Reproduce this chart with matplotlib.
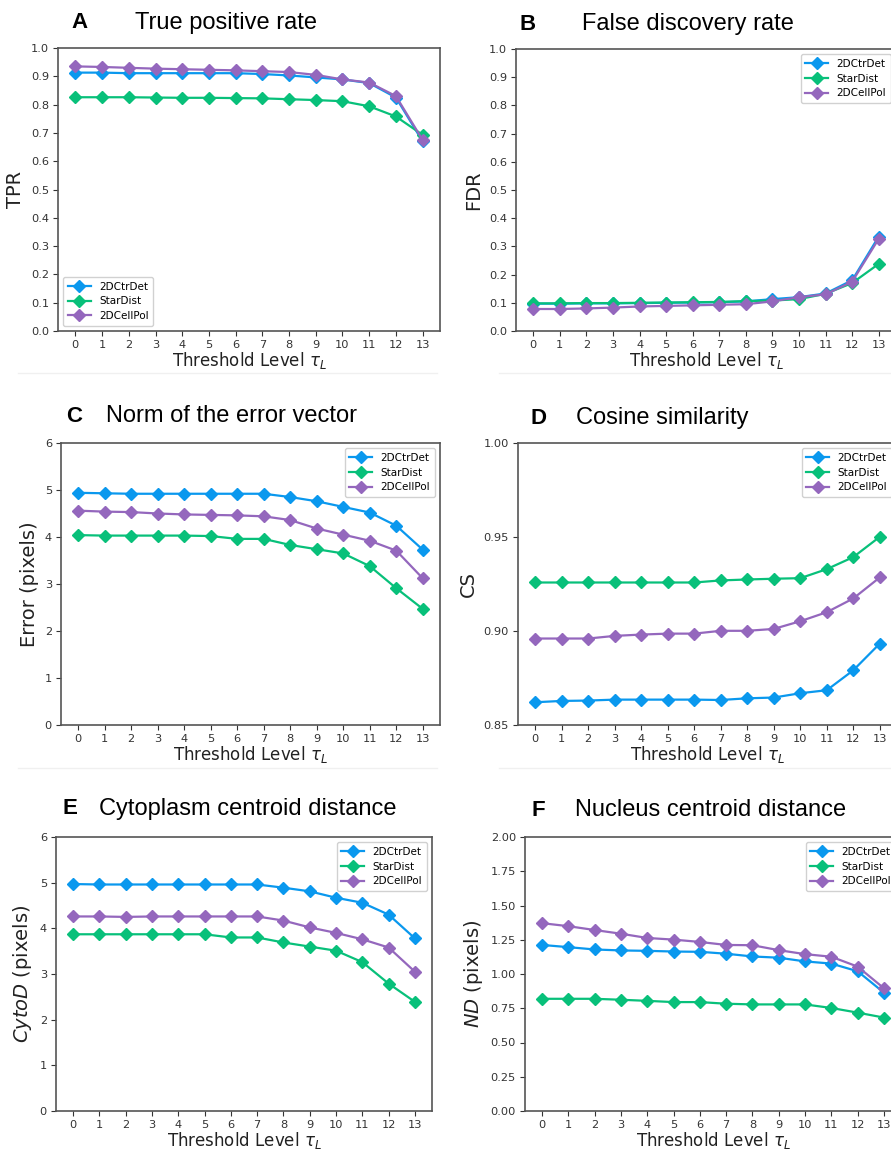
import matplotlib
matplotlib.use("Agg")
import matplotlib.pyplot as plt
import numpy as np
from matplotlib.ticker import FormatStrFormatter

levels = list(range(14))
methods = ["2DCtrDet", "StarDist", "2DCellPol"]
colors = ["#0a98ee", "#08c07a", "#9467bd"]

tpr_ctr = [0.913, 0.913, 0.911, 0.911, 0.911, 0.911, 0.911, 0.908, 0.903, 0.896, 0.889, 0.876, 0.825, 0.670]
tpr_star = [0.826, 0.826, 0.826, 0.825, 0.824, 0.824, 0.823, 0.822, 0.819, 0.816, 0.812, 0.794, 0.758, 0.693]
tpr_pol = [0.935, 0.933, 0.930, 0.927, 0.925, 0.923, 0.921, 0.918, 0.915, 0.905, 0.889, 0.878, 0.830, 0.675]

fdr_ctr = [0.097, 0.097, 0.098, 0.098, 0.099, 0.100, 0.101, 0.102, 0.105, 0.113, 0.120, 0.133, 0.180, 0.335]
fdr_star = [0.098, 0.098, 0.099, 0.099, 0.100, 0.101, 0.102, 0.103, 0.106, 0.108, 0.113, 0.132, 0.170, 0.238]
fdr_pol = [0.078, 0.078, 0.080, 0.083, 0.087, 0.089, 0.091, 0.093, 0.095, 0.105, 0.120, 0.130, 0.175, 0.327]

err_ctr = [4.94, 4.93, 4.92, 4.92, 4.92, 4.92, 4.92, 4.92, 4.85, 4.76, 4.64, 4.52, 4.24, 3.73]
err_star = [4.04, 4.03, 4.03, 4.03, 4.03, 4.02, 3.96, 3.96, 3.83, 3.74, 3.65, 3.38, 2.91, 2.47]
err_pol = [4.56, 4.54, 4.53, 4.50, 4.48, 4.47, 4.46, 4.44, 4.36, 4.18, 4.05, 3.92, 3.71, 3.12]

cs_ctr = [0.8621, 0.8628, 0.8630, 0.8635, 0.8635, 0.8635, 0.8635, 0.8633, 0.8642, 0.8646, 0.8669, 0.8685, 0.8791, 0.8933]
cs_star = [0.9258, 0.9258, 0.9258, 0.9258, 0.9258, 0.9258, 0.9258, 0.9269, 0.9274, 0.9278, 0.9281, 0.9329, 0.9393, 0.9501]
cs_pol = [0.8960, 0.8960, 0.8960, 0.8974, 0.8981, 0.8986, 0.8986, 0.9001, 0.9001, 0.9011, 0.9052, 0.9100, 0.9173, 0.9285]

cyto_ctr = [4.97, 4.96, 4.96, 4.96, 4.96, 4.96, 4.96, 4.96, 4.89, 4.81, 4.67, 4.56, 4.30, 3.78]
cyto_star = [3.87, 3.87, 3.87, 3.87, 3.87, 3.87, 3.80, 3.80, 3.69, 3.60, 3.51, 3.26, 2.79, 2.39]
cyto_pol = [4.26, 4.26, 4.25, 4.26, 4.26, 4.26, 4.26, 4.26, 4.17, 4.02, 3.90, 3.76, 3.58, 3.05]

nd_ctr = [1.212, 1.196, 1.179, 1.172, 1.169, 1.164, 1.162, 1.148, 1.128, 1.119, 1.092, 1.076, 1.020, 0.864]
nd_star = [0.819, 0.819, 0.819, 0.812, 0.804, 0.795, 0.795, 0.783, 0.778, 0.778, 0.778, 0.752, 0.718, 0.682]
nd_pol = [1.371, 1.349, 1.321, 1.294, 1.263, 1.251, 1.234, 1.212, 1.210, 1.174, 1.145, 1.126, 1.054, 0.896]

W, H = 891, 1152
fig = plt.figure(figsize=(W / 100, H / 100), dpi=100)

def rect(l, r, t, b):
    return [l / W, 1 - b / H, (r - l) / W, (b - t) / H]

panels = [
    dict(letter="A", title="True positive rate", box=(58, 440, 48, 331), lx=80, tx=135, ty=23,
         data=(tpr_ctr, tpr_star, tpr_pol), ylim=(0, 1.0), yticks=np.round(np.arange(0, 1.01, 0.1), 1),
         fmt="%.1f", ylabel="TPR", loc="lower left"),
    dict(letter="B", title="False discovery rate", box=(516, 896, 49, 331), lx=528, tx=582, ty=24,
         data=(fdr_ctr, fdr_star, fdr_pol), ylim=(0, 1.0), yticks=np.round(np.arange(0, 1.01, 0.1), 1),
         fmt="%.1f", ylabel="FDR", loc="upper right"),
    dict(letter="C", title="Norm of the error vector", box=(61, 440, 443, 725), lx=74, tx=106, ty=416,
         data=(err_ctr, err_star, err_pol), ylim=(0, 6), yticks=np.arange(0, 7, 1),
         fmt="%d", ylabel="Error (pixels)", loc="upper right"),
    dict(letter="D", title="Cosine similarity", box=(518, 897, 443, 725), lx=539, tx=576, ty=418,
         data=(cs_ctr, cs_star, cs_pol), ylim=(0.85, 1.0), yticks=[0.85, 0.90, 0.95, 1.00],
         fmt="%.2f", ylabel="CS", loc="upper right"),
    dict(letter="E", title="Cytoplasm centroid distance", box=(56, 432, 837, 1111), lx=70, tx=99, ty=809,
         data=(cyto_ctr, cyto_star, cyto_pol), ylim=(0, 6), yticks=np.arange(0, 7, 1),
         fmt="%d", ylabel="$CytoD$ (pixels)", loc="upper right"),
    dict(letter="F", title="Nucleus centroid distance", box=(525, 901, 837, 1111), lx=538, tx=575, ty=810,
         data=(nd_ctr, nd_star, nd_pol), ylim=(0, 2.0), yticks=np.arange(0, 2.01, 0.25),
         fmt="%.2f", ylabel="$ND$ (pixels)", loc="upper right"),
]

for p in panels:
    ax = fig.add_axes(rect(*p["box"]))
    for vals, name, c in zip(p["data"], methods, colors):
        ax.plot(levels, vals, marker="D", markersize=6, linewidth=1.6, color=c, label=name)
    ax.set_xticks(levels)
    ax.set_xlim(-0.65, 13.65)
    ax.set_ylim(*p["ylim"])
    ax.set_yticks(p["yticks"])
    ax.yaxis.set_major_formatter(FormatStrFormatter(p["fmt"]))
    ax.tick_params(labelsize=8.2, colors="#333333", length=3.5, width=0.8, pad=3)
    for s in ax.spines.values():
        s.set_color("#555555")
        s.set_linewidth(1.2)
    ax.set_ylabel(p["ylabel"], fontsize=14, color="#222222")
    ax.set_xlabel(r"Threshold Level $\tau_L$", fontsize=12, color="#222222", labelpad=0)
    ax.legend(loc=p["loc"], fontsize=7.5, handlelength=2.2, borderpad=0.45,
              labelspacing=0.45, framealpha=0.9, edgecolor="#cccccc")
    fig.text(p["lx"] / W, 1 - p["ty"] / H, p["letter"], fontsize=16, fontweight="bold",
             family="Liberation Sans", ha="center", va="center")
    fig.text(p["tx"] / W, 1 - p["ty"] / H, p["title"], fontsize=17,
             family="Liberation Sans", ha="left", va="center")

# faint separators between rows, as in the reference
for y in (373, 768):
    fig.add_artist(plt.Line2D([0.02, 0.49], [1 - y / H] * 2, color="#f0f0f0", lw=1))
    fig.add_artist(plt.Line2D([0.56, 1.0], [1 - y / H] * 2, color="#f0f0f0", lw=1))

fig.savefig("out.png", dpi=100)
